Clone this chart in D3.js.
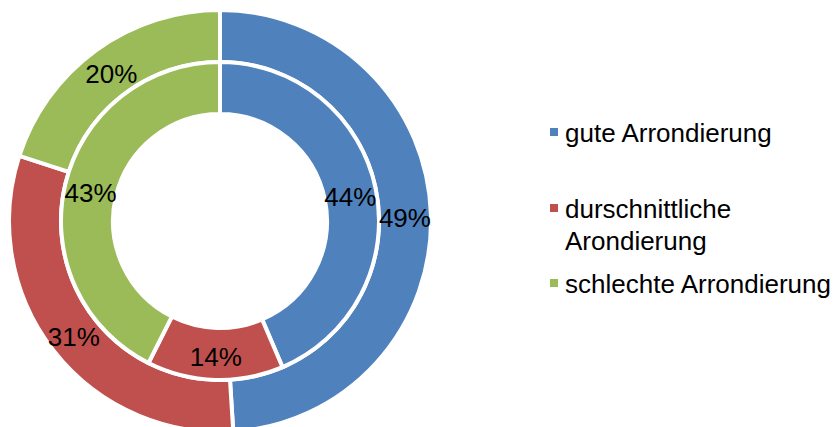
<!DOCTYPE html>
<html>
<head>
<meta charset="utf-8">
<script src="https://cdn.jsdelivr.net/npm/d3@7/dist/d3.min.js"></script>
<style>
  html, body { margin:0; padding:0; background:#fff; }
  svg { display:block; font-family:"Liberation Sans", Arial, sans-serif; }
</style>
</head>
<body>
<div id="chart"></div>
<script>
// categories and the two rings (outer = first series, inner = second)
var categories = ["gute Arrondierung", "durschnittliche Arondierung", "schlechte Arrondierung"];
var legendLines = [["gute Arrondierung"], ["durschnittliche", "Arondierung"], ["schlechte Arrondierung"]];
var outerValues = [49, 31, 20];
var innerValues = [44, 14, 43];
var colors = ["#4F81BD", "#C0504D", "#9BBB59"];

var W = 840, H = 427, cx = 220, cy = 221;
var svg = d3.select("#chart").append("svg").attr("width", W).attr("height", H);
var g = svg.append("g").attr("transform", "translate(" + cx + "," + cy + ")");

var pie = d3.pie().sort(null).value(function(d){ return d; });
var rings = [
  { vals: outerValues, r0: 159, r1: 211 },
  { vals: innerValues, r0: 107, r1: 159 }
];

rings.forEach(function(ring){
  var arc = d3.arc().innerRadius(ring.r0).outerRadius(ring.r1);
  var arcs = pie(ring.vals);
  g.selectAll(null).data(arcs).enter().append("path")
    .attr("d", arc)
    .attr("fill", function(d, i){ return colors[i]; })
    .attr("stroke", "#fff").attr("stroke-width", 4).attr("stroke-linejoin", "miter");
  ring.arcs = arcs; ring.arc = arc;
});

// data labels, drawn after both rings so nothing covers them
rings.forEach(function(ring){
  g.selectAll(null).data(ring.arcs).enter().append("text")
    .attr("transform", function(d){ var c = ring.arc.centroid(d); return "translate(" + c[0] + "," + (c[1] + 3) + ")"; })
    .attr("text-anchor", "middle").attr("dominant-baseline", "central")
    .attr("font-size", 26).attr("fill", "#000")
    .text(function(d){ return d.data + "%"; });
});

// legend
var legendY = [142, 218, 293];
var lg = svg.append("g");
legendLines.forEach(function(lines, i){
  lg.append("rect").attr("x", 550).attr("y", legendY[i] - 14).attr("width", 8).attr("height", 8)
    .attr("fill", colors[i]);
  lines.forEach(function(t, k){
    lg.append("text").attr("x", 565).attr("y", legendY[i] + k * 32)
      .attr("font-size", 26).attr("fill", "#000").text(t);
  });
});
</script>
</body>
</html>
